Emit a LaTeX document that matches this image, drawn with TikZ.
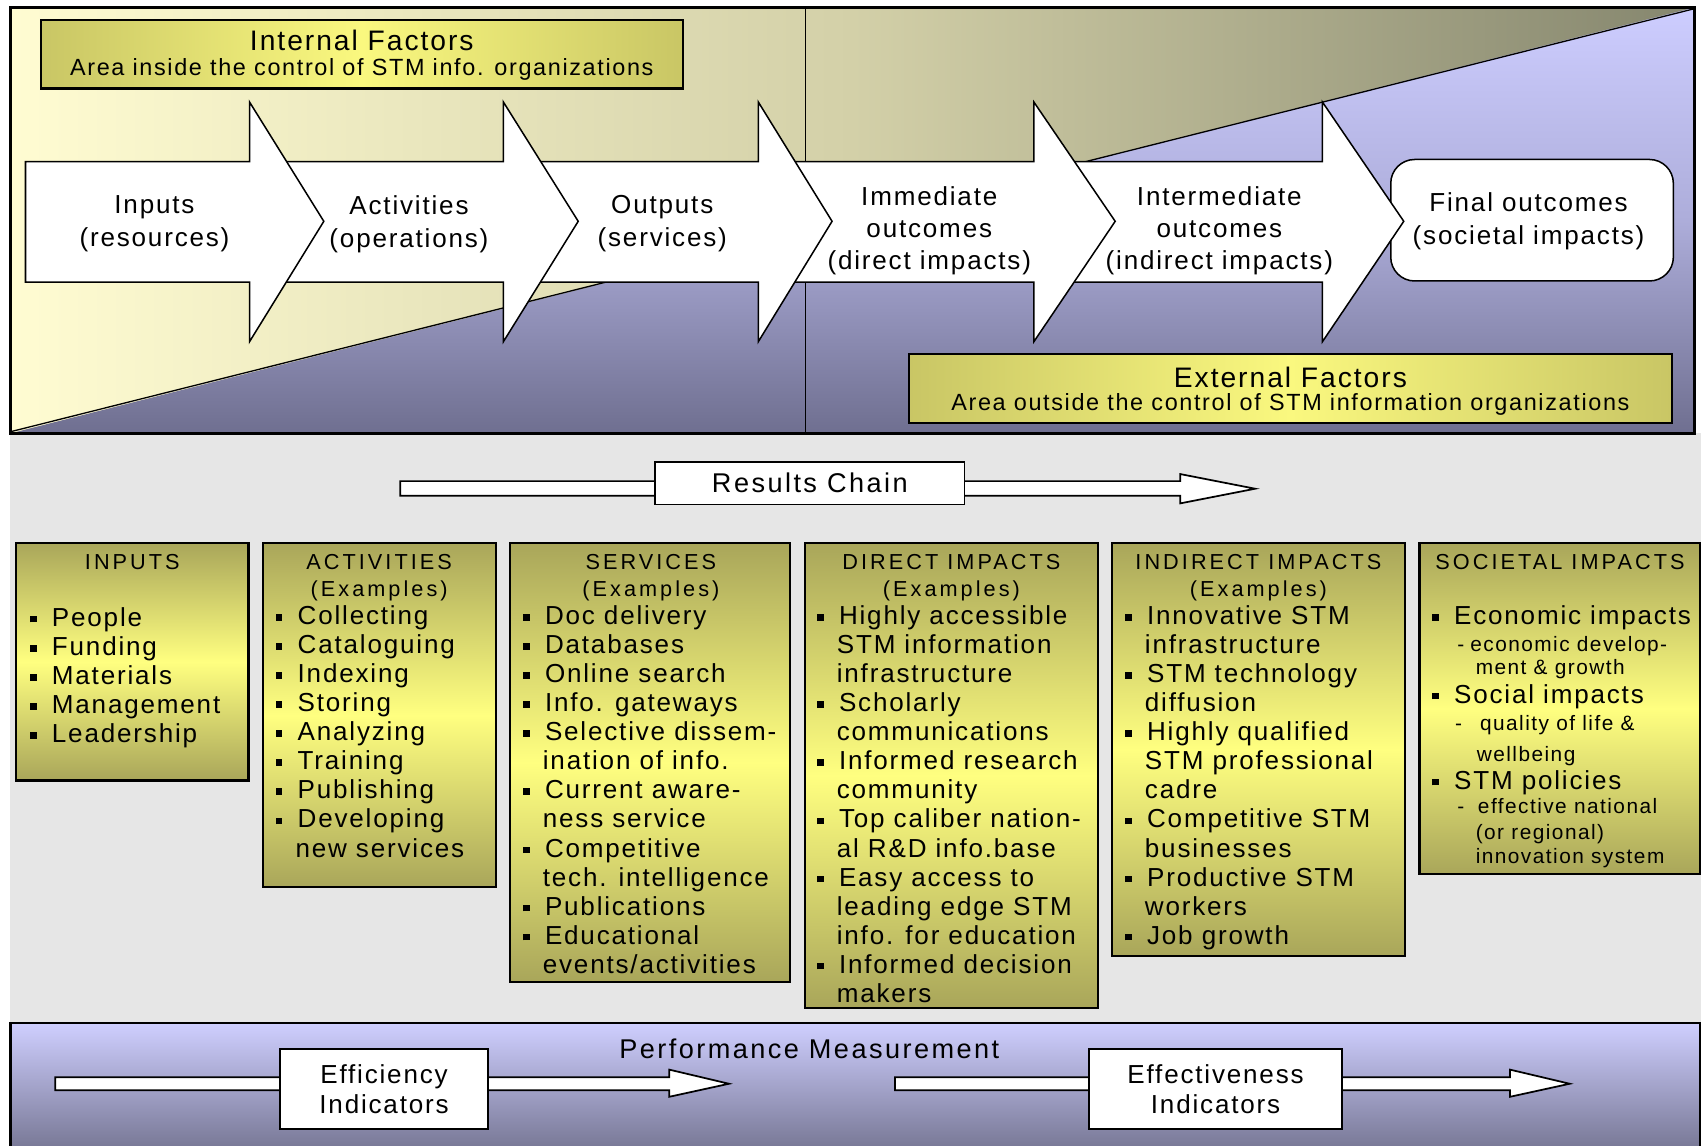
\documentclass[tikz,border=0pt]{standalone}
\usepackage{fontspec}
\setmainfont{Liberation Sans}[LetterSpace=7]
\newfontfamily\capsfont{Liberation Sans}[LetterSpace=14]
\newfontfamily\widefont{Liberation Sans}[LetterSpace=9]

\definecolor{paleyel}{HTML}{FFFCD2}
\definecolor{midtan}{HTML}{D3D0A8}
\definecolor{darkolv}{HTML}{85866E}
\definecolor{lavtop}{HTML}{CDCDFF}
\definecolor{lavmid}{HTML}{ADADDA}
\definecolor{lavbot}{HTML}{6F6F90}
\definecolor{boxolv}{HTML}{A9A65A}
\definecolor{boxyel}{HTML}{FFFF80}
\definecolor{facolv}{HTML}{C9C665}
\definecolor{facyel}{HTML}{FAF87F}
\definecolor{bggrey}{HTML}{E6E6E6}
\definecolor{pmtop}{HTML}{CFCFFF}
\definecolor{pmbot}{HTML}{7A7A98}

\newcommand\bodysize{\fontsize{12pt}{13.4pt}\selectfont}
\newcommand\capsize{\capsfont\fontsize{10pt}{12pt}\selectfont}
\newcommand\subsize{\fontsize{9.6pt}{11pt}\selectfont}
\newcommand\sqb{\makebox[10pt][l]{\rule[1.8pt]{3pt}{3pt}}}
\newcommand\contline{\hspace*{9pt}}

% block chevron: body left edge, head base, tip
\newcommand\chevron[3]{%
  \path[chev] (#1,149) -- (#2,149) -- (#2,94) -- (#3,204) -- (#2,315)
    -- (#2,260) -- (#1,260) -- cycle;}

% one text line per node, stacked from the first line's visual centre
\newcommand\itemlist[4]{%
  \foreach \t [count=\i from 0] in {#4}
    {\node[item] (#1-\i) at (#2,{#3+8.6+\i*26.8}) {\t};}%
}

\begin{document}
\begin{tikzpicture}[x=0.5pt,y=-0.5pt,
  chev/.style={fill=white,draw=black,line width=0.7pt,line join=miter},
  ybox/.style={draw=black,line width=1pt,top color=boxolv,bottom color=boxolv,middle color=boxyel},
  facbox/.style={draw=black,line width=1pt,left color=facolv,right color=facolv,middle color=facyel},
  item/.style={anchor=base west,inner sep=0pt,font=\bodysize},
  subitem/.style={anchor=base west,inner sep=0pt,font=\subsize},
  ttl/.style={anchor=base,inner sep=0pt,font=\capsize},
  toptext/.style={align=center,inner sep=0pt,font=\fontsize{12pt}{15.2pt}\selectfont},
  toptextb/.style={align=center,inner sep=0pt,font=\fontsize{12pt}{14.8pt}\selectfont},
  blockarrow/.style={fill=white,draw=black,line width=0.8pt,line join=miter},
  labelbox/.style={draw=black,fill=white,line width=0.8pt,inner sep=0pt,align=center}]

\useasboundingbox (0,0) rectangle (1568,1056);
\fill[white] (0,0) rectangle (1568,1056);
\fill[bggrey] (9.5,399.5) rectangle (1568,943);

% ---------- upper panel: internal / external areas ----------
\shade[left color=paleyel,right color=darkolv,middle color=midtan]
  (9.5,7) rectangle (1562,399.5);
\shade[top color=lavtop,bottom color=lavbot,middle color=lavmid]
  (9.5,399.5) -- (1562,7) -- (1562,399.5) -- cycle;
\draw[line width=0.6pt] (9.5,398) -- (1562,8);
\draw[line width=0.8pt] (742.5,7) -- (742.5,399.5);
\draw[line width=1.2pt] (9.5,7) rectangle (1562,399.5);

\path[facbox] (37.5,18.5) rectangle (629.5,81.5);
\node[inner sep=0pt,font=\fontsize{13pt}{15pt}\selectfont] (int-head) at (333.5,37) {Internal Factors};
\node[inner sep=0pt,font=\fontsize{10.8pt}{13pt}\selectfont] (int-sub) at (333.5,64) {Area inside the control of STM info. organizations};

\path[facbox] (838,326) rectangle (1541,390);
\node[inner sep=0pt,font=\fontsize{13pt}{15pt}\selectfont] (ext-head) at (1189.5,347.5) {External Factors};
\node[inner sep=0pt,font=\fontsize{10.8pt}{13pt}\selectfont] (ext-sub) at (1189.5,373) {Area outside the control of STM information organizations};

% ---------- results chain chevrons ----------
\path[chev,rounded corners=11pt] (1282,147) rectangle (1542.5,259);
\chevron{970}{1219}{1294}
\chevron{710}{953}{1028}
\chevron{475}{699}{767}
\chevron{240}{464}{533}
\chevron{23.5}{230}{298.5}

\node[toptext] (tx-in) at (142.4,206.5) {Inputs\\(resources)};
\node[toptext] (tx-act) at (377,206.5) {Activities\\(operations)};
\node[toptext] (tx-out) at (610.5,206.5) {Outputs\\(services)};
\node[toptextb] (tx-imm) at (856.6,212.5) {Immediate\\outcomes\\(direct impacts)};
\node[toptextb] (tx-int) at (1124,212.5) {Intermediate\\outcomes\\(indirect impacts)};
\node[toptext] (tx-fin) at (1409,204) {Final outcomes\\(societal impacts)};

% ---------- results chain arrow ----------
\path[blockarrow] (369,443.5) -- (1088,443.5) -- (1088,437) -- (1157,450.5)
  -- (1088,464) -- (1088,457) -- (369,457) -- cycle;
\node[labelbox,minimum width=142.5pt,minimum height=19.5pt,font=\widefont\fontsize{12.5pt}{15pt}\selectfont]
  (rc) at (746.5,445.5) {Results Chain};

% ---------- example boxes ----------
\path[ybox] (15,500.5) rectangle (229,719.5);
\node[ttl] (inp-t) at (122,524.8) {INPUTS};
\itemlist{inp}{27.5}{568.8}{{\sqb People},{\sqb Funding},{\sqb Materials},{\sqb Management},{\sqb Leadership}}

\path[ybox] (242.5,500.5) rectangle (457,818);
\node[ttl] (act-t) at (349.5,524.8) {ACTIVITIES};
\node[ttl] (act-e) at (349.5,550) {(Examples)};
\itemlist{act}{254}{567}{{\sqb Collecting},{\sqb Cataloguing},{\sqb Indexing},{\sqb Storing},{\sqb Analyzing},{\sqb Training},{\sqb Publishing},{\sqb Developing},{\contline new services}}

\path[ybox] (470,500.5) rectangle (728.5,905);
\node[ttl] (svc-t) at (600,524.8) {SERVICES};
\node[ttl] (svc-e) at (600,550) {(Examples)};
\itemlist{svc}{482}{567}{{\sqb Doc delivery},{\sqb Databases},{\sqb Online search},{\sqb Info. gateways},{\sqb Selective dissem-},{\contline ination of info.},{\sqb Current aware-},{\contline ness service},{\sqb Competitive},{\contline tech. intelligence},{\sqb Publications},{\sqb Educational},{\contline events/activities}}

\path[ybox] (742,500.5) rectangle (1012,929);
\node[ttl] (dir-t) at (877,524.8) {DIRECT IMPACTS};
\node[ttl] (dir-e) at (877,550) {(Examples)};
\itemlist{dir}{753}{567}{{\sqb Highly accessible},{\contline STM information},{\contline infrastructure},{\sqb Scholarly},{\contline communications},{\sqb Informed research},{\contline community},{\sqb Top caliber nation-},{\contline al R\&D info.base},{\sqb Easy access to},{\contline leading edge STM},{\contline info. for education},{\sqb Informed decision},{\contline makers}}

\path[ybox] (1025,500.5) rectangle (1295,881);
\node[ttl] (ind-t) at (1160,524.8) {INDIRECT IMPACTS};
\node[ttl] (ind-e) at (1160,550) {(Examples)};
\itemlist{ind}{1037}{567}{{\sqb Innovative STM},{\contline infrastructure},{\sqb STM technology},{\contline diffusion},{\sqb Highly qualified},{\contline STM professional},{\contline cadre},{\sqb Competitive STM},{\contline businesses},{\sqb Productive STM},{\contline workers},{\sqb Job growth}}

\path[ybox] (1308.5,500.5) rectangle (1567,806);
\node[ttl] (soc-t) at (1438,524.8) {SOCIETAL IMPACTS};
\node[item] (soc-0) at (1320,575.6) {\sqb Economic impacts};
\node[subitem] (soc-1) at (1343,600.4) {\makebox[6pt][l]{-}economic develop-};
\node[subitem] (soc-2) at (1360,621.8) {ment \& growth};
\node[item] (soc-3) at (1320,648.1) {\sqb Social impacts};
\node[subitem] (soc-4) at (1341,673.8) {\makebox[11.5pt][l]{-}quality of life \&};
\node[subitem] (soc-5) at (1361,701.8) {wellbeing};
\node[item] (soc-6) at (1320,727.6) {\sqb STM policies};
\node[subitem] (soc-7) at (1343,749.8) {\makebox[9.5pt][l]{-}effective national};
\node[subitem] (soc-8) at (1360,773.8) {(or regional)};
\node[subitem] (soc-9) at (1360,795.8) {innovation system};

% ---------- performance measurement panel ----------
\shade[top color=pmtop,bottom color=pmbot] (9.5,943) rectangle (1567,1056);
\draw[line width=1.2pt] (9.5,1060) -- (9.5,943) -- (1567,943) -- (1567,1060);
\node[inner sep=0pt,font=\widefont\fontsize{12.5pt}{15pt}\selectfont] (pm) at (746,967) {Performance Measurement};

\path[blockarrow] (51,993) -- (617,993) -- (617,986) -- (672,999)
  -- (617,1011) -- (617,1005) -- (51,1005) -- cycle;
\node[labelbox,minimum width=96pt,minimum height=37pt,font=\fontsize{12pt}{14pt}\selectfont]
  (eff) at (354,1004) {Efficiency\\Indicators};

\path[blockarrow] (825,993) -- (1392,993) -- (1392,986) -- (1447,999)
  -- (1392,1011) -- (1392,1005) -- (825,1005) -- cycle;
\node[labelbox,minimum width=116.5pt,minimum height=37pt,font=\fontsize{12pt}{14pt}\selectfont]
  (effv) at (1120.5,1004) {Effectiveness\\Indicators};

\end{tikzpicture}
\end{document}
